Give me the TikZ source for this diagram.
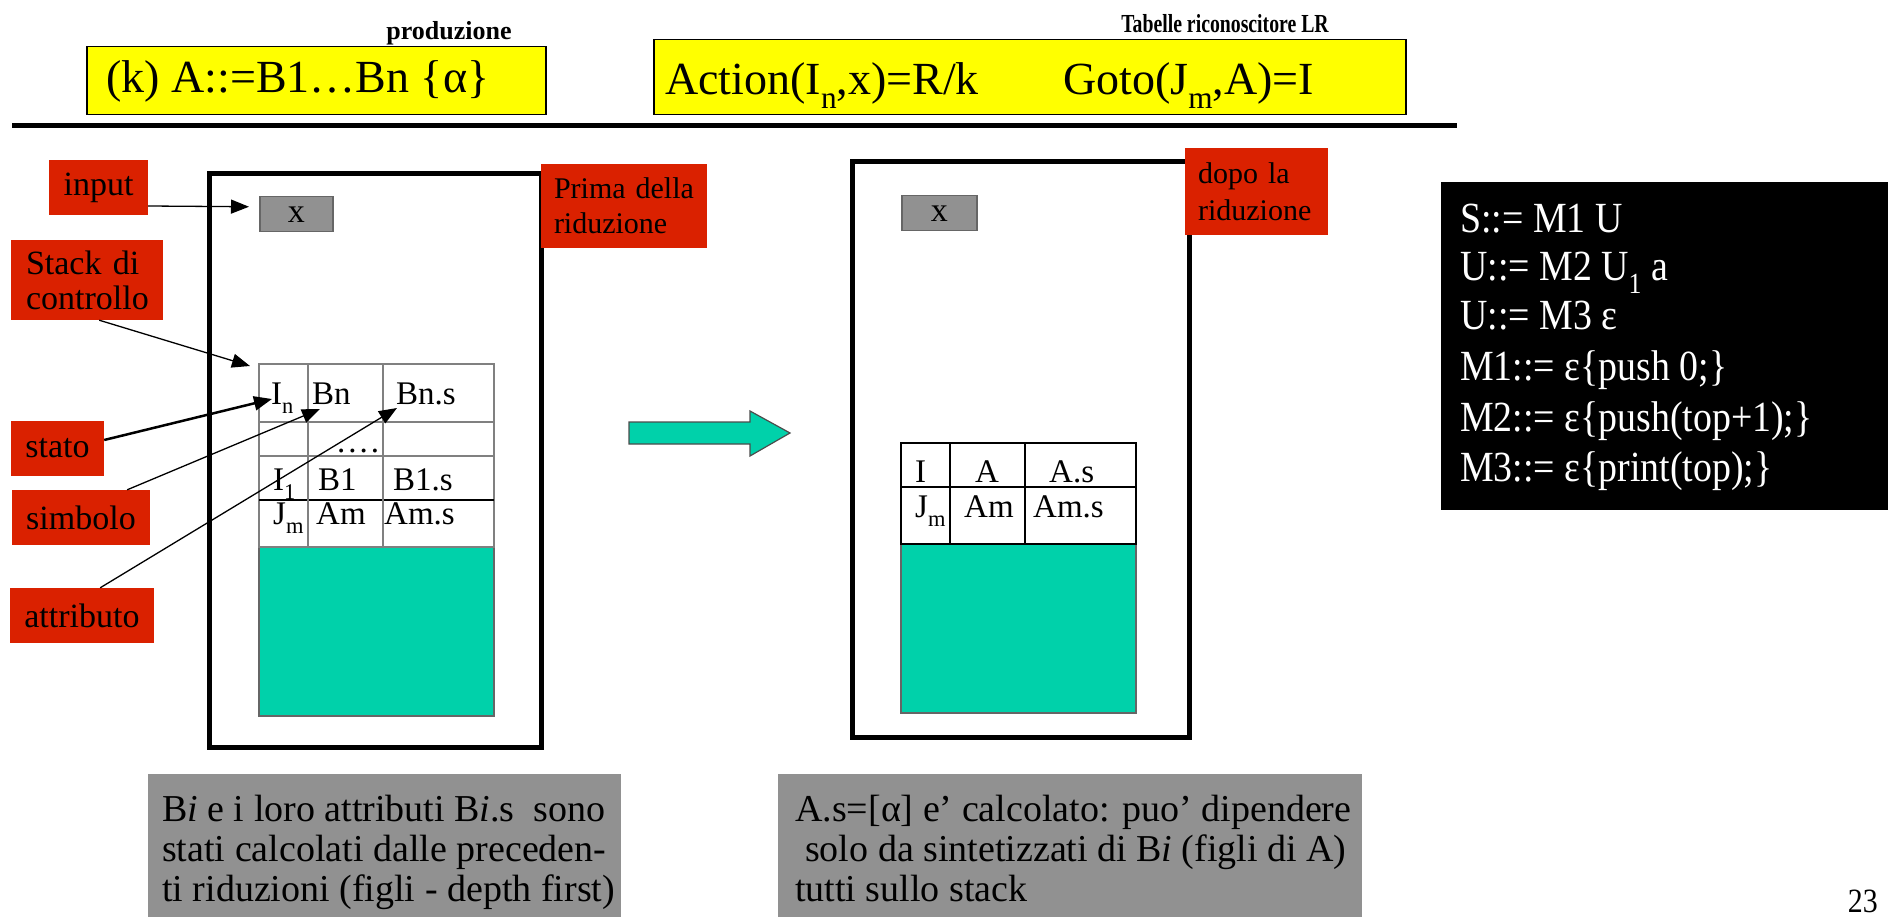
\documentclass[tikz,border=0pt]{standalone}
\usepackage{fontspec}
\setmainfont{Liberation Serif}
\usetikzlibrary{arrows.meta}
\definecolor{ylw}{RGB}{255,255,0}
\definecolor{lred}{RGB}{218,33,0}
\definecolor{tealc}{RGB}{0,209,170}
\definecolor{gboxc}{RGB}{145,145,145}
\definecolor{tline}{RGB}{128,128,128}
\newcommand\lsub[1]{\raisebox{-0.3em}{\scalebox{0.68}{#1}}}
\newcommand\fsz[2]{\fontsize{#1}{#2}\selectfont}
\newcommand\sqz[2]{\scalebox{#1}[1]{#2}}
\begin{document}
\begin{tikzpicture}[x=1pt,y=-1pt,
  lbl/.style={fill=lred, inner sep=0pt, font=\fsz{34}{36}},
  ybox/.style={fill=ylw, draw=black, line width=1.5pt, inner sep=0pt, anchor=north west},
  bigbox/.style={draw=black, line width=5pt},
  xbox/.style={fill=gboxc, draw=black!60, line width=1.5pt, inner sep=0pt, anchor=north west, font=\fsz{34}{36}},
  cell/.style={anchor=base west, inner sep=0pt, font=\fsz{33}{36}},
  ptr/.style={draw=black, line width=1.3pt, -{Triangle[length=18pt,width=14pt]}},
  gline/.style={draw=tline, line width=1.5pt},
  bline/.style={draw=black, line width=2pt},
  stk/.style={fill=tealc, draw=black!60, line width=1.2pt},
  gram/.style={anchor=base west, inner sep=0pt, text=white, font=\fsz{43}{50}},
  note/.style={anchor=base west, inner sep=0pt, font=\fsz{38}{47}},
  ttl/.style={anchor=base, inner sep=0pt, font=\bfseries\fsz{26}{28}},
]
\useasboundingbox (0,0) rectangle (1888,917);

% titles and formula boxes
\node[ttl] (prodlbl) at (449,40) {produzione};
\node[ttl] (tablbl) at (1225,33) {\sqz{0.76}{Tabelle riconoscitore LR}};
\node[ybox, minimum width=459, minimum height=68] (ybox1) at (86,46) {};
\node[anchor=base west, inner sep=0pt, font=\fsz{46}{50}] (prod) at (106,93) {(k) A::=B1…Bn \{α\}};
\node[ybox, minimum width=752, minimum height=75] (ybox2) at (653,39) {};
\node[anchor=base west, inner sep=0pt, font=\fsz{46}{50}] (act) at (665,95) {Action(I\lsub{n},x)=R/k};
\node[anchor=base west, inner sep=0pt, font=\fsz{46}{50}] (goto) at (1063,95) {Goto(J\lsub{m},A)=I};
\draw[line width=5pt] (12,125.5) -- (1457,125.5);

% big frames
\draw[bigbox] (209.5,173.5) rectangle (541.5,747);
\draw[bigbox] (852.5,161.5) rectangle (1189.5,737);

% left stack
\draw[stk] (259,547) rectangle (494,716);
\draw[gline] (259,364) rectangle (494,547);
\draw[gline] (259,422) -- (494,422);
\draw[gline] (259,456) -- (494,456);
\draw[bline] (259,500) -- (494,500);
\draw[gline] (308,364) -- (308,547);
\draw[gline] (383,364) -- (383,547);
\node[cell] (c11) at (271,404) {I\lsub{n}};
\node[cell] (c12) at (312,404) {Bn};
\node[cell] (c13) at (396,404) {Bn.s};
\node[cell] (c22) at (337,452) {.\kern3pt.\kern3pt.\kern3pt.};
\node[cell] (c31) at (273,490) {I\lsub{1}};
\node[cell] (c32) at (318,490) {B1};
\node[cell] (c33) at (393,490) {B1.s};
\node[cell] (c41) at (273,524) {J\lsub{m}};
\node[cell] (c42) at (316,524) {Am};
\node[cell] (c43) at (384,524) {Am.s};

% right stack
\draw[stk] (901,544) rectangle (1136,713);
\draw[bline] (901,443) rectangle (1136,544);
\draw[bline] (901,487) -- (1136,487);
\draw[bline] (950,443) -- (950,544);
\draw[bline] (1025,443) -- (1025,544);
\node[cell] (d11) at (915,482) {I};
\node[cell] (d12) at (975,482) {A};
\node[cell] (d13) at (1049,482) {A.s};
\node[cell] (d21) at (915,517) {J\lsub{m}};
\node[cell] (d22) at (964,517) {Am};
\node[cell] (d23) at (1033,517) {Am.s};

% input boxes
\node[xbox, minimum width=73, minimum height=35] (xin1) at (259,196) {x};
\node[xbox, minimum width=75, minimum height=35] (xin2) at (901,195) {x};

% red labels
\node[lbl, minimum width=166, minimum height=84, font=\fsz{30}{35}, align=left, text width=140] (prima) at (624,206) {Prima della\\riduzione};
\node[lbl, minimum width=143, minimum height=87, font=\fsz{30}{37}, align=left, text width=117] (dopo) at (1256.5,191.5) {dopo la\\riduzione};
\node[lbl, minimum width=99, minimum height=55] (input) at (98.5,187.5) {input};
\node[lbl, minimum width=152, minimum height=80, align=left, text width=122, font=\fsz{34}{35}] (stack) at (87,280) {Stack di\\controllo};
\node[lbl, minimum width=93, minimum height=55] (stato) at (57.5,448.5) {stato};
\node[lbl, minimum width=138, minimum height=55] (simbolo) at (81,517.5) {simbolo};
\node[lbl, minimum width=144, minimum height=55] (attributo) at (82,615.5) {attributo};

% pointers
\coordinate (stktip) at (250,366);
\coordinate (stip) at (272,399);
\coordinate (sytip) at (320,409);
\coordinate (attip) at (397,408);
\draw[ptr] ([yshift=-18.5pt]input.east) -- ([xshift=-10pt,yshift=7.5pt]xin1.west);
\draw[ptr] ([xshift=-64pt]stack.south east) -- (stktip);
\draw[ptr, line width=2.5pt] ([yshift=8.5pt]stato.east) -- (stip);
\draw[ptr] ([xshift=-23pt]simbolo.north east) -- (sytip);
\draw[ptr] ([xshift=-54pt]attributo.north east) -- (attip);

% big arrow
\filldraw[fill=tealc, draw=black!70, line width=1.2pt] (629,422) -- (750,422) -- (750,411) -- (790,433) -- (750,456) -- (750,444) -- (629,444) -- cycle;

% grammar
\fill[black] (1441,182) rectangle (1888,510);
\node[gram] (g1) at (1460,233) {\sqz{0.88}{S::= M1 U}};
\node[gram] (g2) at (1460,281) {\sqz{0.88}{U::= M2 U\lsub{1} a}};
\node[gram] (g3) at (1460,330) {\sqz{0.88}{U::= M3 ε}};
\node[gram] (g4) at (1460,381) {\sqz{0.88}{M1::= ε\{push 0;\}}};
\node[gram] (g5) at (1460,431) {\sqz{0.88}{M2::= ε\{push(top+1);\}}};
\node[gram] (g6) at (1460,481) {\sqz{0.88}{M3::= ε\{print(top);\}}};

% notes
\fill[gboxc] (148,774) rectangle (621,917);
\fill[gboxc] (778,774) rectangle (1362,917);
\node[note] (l1) at (162,821) {B\textit{i} e i loro attributi B\textit{i}.s\ \ sono};
\node[note] (l2) at (162,861) {stati calcolati dalle preceden-};
\node[note] (l3) at (162,901) {ti riduzioni (figli - depth first)};
\node[note] (r1) at (795,821) {A.s=[α] e’ calcolato: puo’ dipendere};
\node[note] (r2) at (805,861) {solo da sintetizzati di B\textit{i} (figli di A)};
\node[note] (r3) at (795,901) {tutti sullo stack};

\node[anchor=base east, inner sep=0pt, font=\fsz{34}{40}] (pg) at (1878,912) {\sqz{0.88}{23}};
\end{tikzpicture}
\end{document}
